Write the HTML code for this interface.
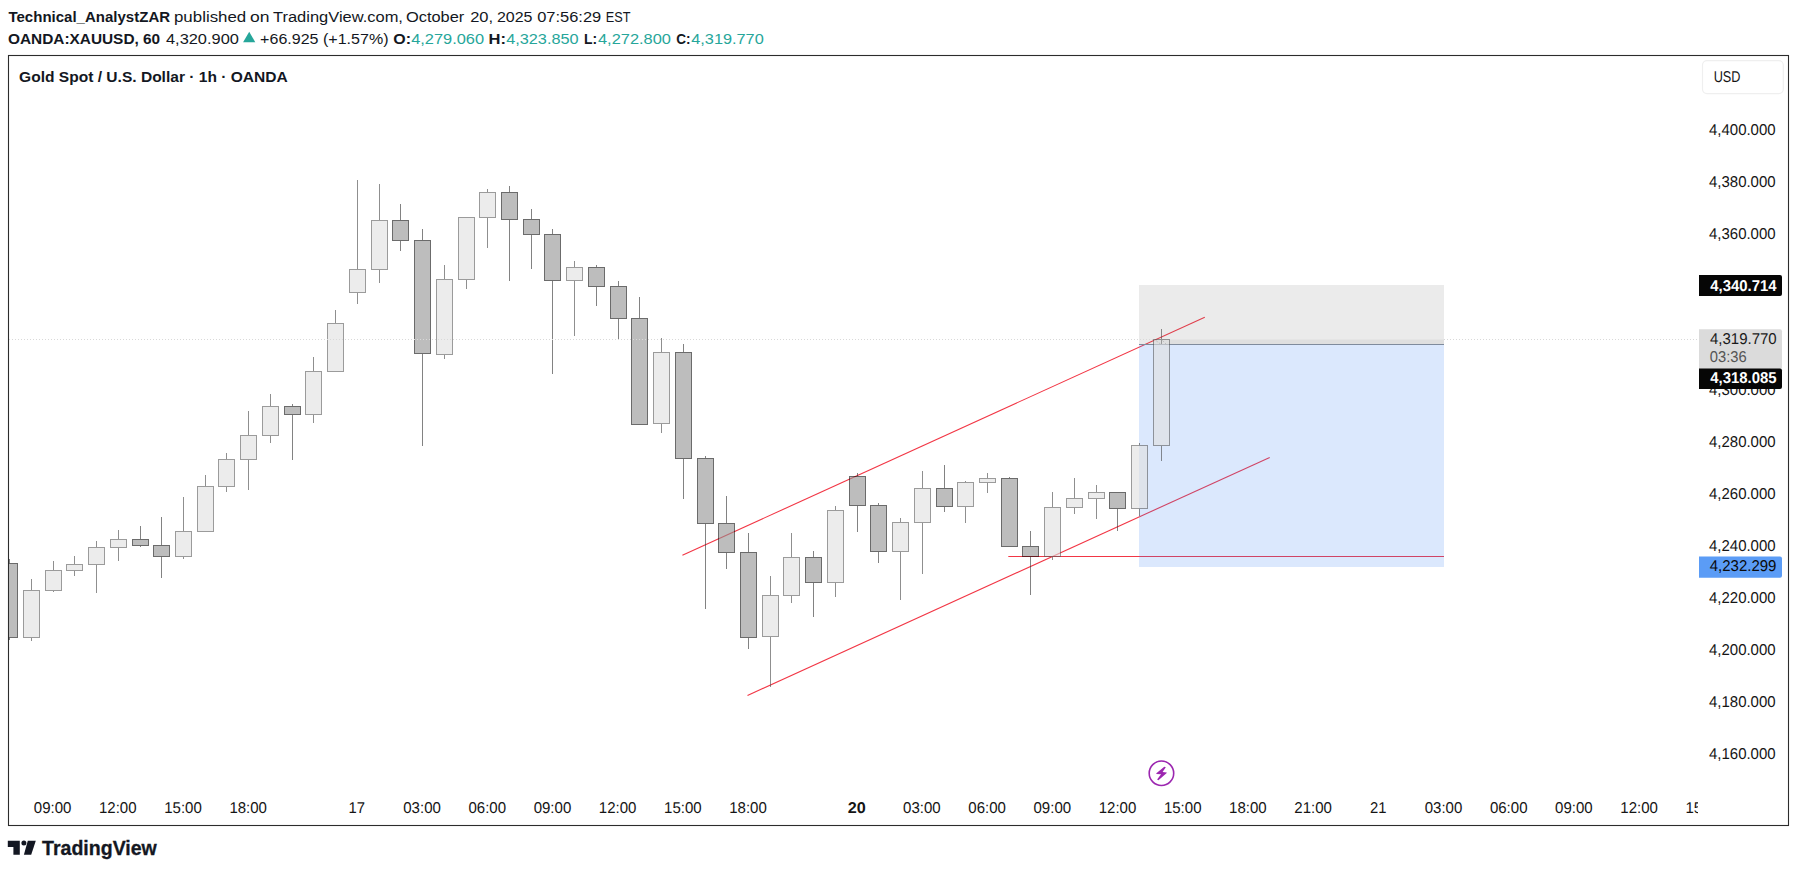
<!DOCTYPE html>
<html lang="en"><head><meta charset="utf-8"><title>XAUUSD chart</title>
<style>
html,body{margin:0;padding:0;background:#fff;}
body{width:1797px;height:872px;overflow:hidden;font-family:"Liberation Sans",Arial,sans-serif;}
svg{display:block}
text{font-family:"Liberation Sans",Arial,sans-serif;}
.ax{font-size:15.6px;fill:#151515;text-rendering:geometricPrecision}
.hd{font-size:14.7px;fill:#131722}
.b{font-weight:bold}
.teal{fill:#26a69a}
</style></head><body>
<svg width="1797" height="872" viewBox="0 0 1797 872">
<rect width="1797" height="872" fill="#fff"/>
<defs><clipPath id="plot"><rect x="9" y="56" width="1688" height="769"/></clipPath>
<clipPath id="taxis"><rect x="8.5" y="790" width="1689.5" height="35"/></clipPath></defs>

<text class="hd b" x="8.44" y="21.9" textLength="161.66" lengthAdjust="spacingAndGlyphs">Technical_AnalystZAR</text>
<text class="hd" x="173.99" y="21.9" textLength="72.26" lengthAdjust="spacingAndGlyphs">published</text>
<text class="hd" x="249.91" y="21.9" textLength="19.49" lengthAdjust="spacingAndGlyphs">on</text>
<text class="hd" x="273.03" y="21.9" textLength="129.91" lengthAdjust="spacingAndGlyphs">TradingView.com,</text>
<text class="hd" x="405.95" y="21.9" textLength="58.36" lengthAdjust="spacingAndGlyphs">October</text>
<text class="hd" x="470.18" y="21.9" textLength="22.93" lengthAdjust="spacingAndGlyphs">20,</text>
<text class="hd" x="496.91" y="21.9" textLength="35.62" lengthAdjust="spacingAndGlyphs">2025</text>
<text class="hd" x="537.16" y="21.9" textLength="64.09" lengthAdjust="spacingAndGlyphs">07:56:29</text>
<text class="hd" x="605.68" y="21.9" textLength="24.74" lengthAdjust="spacingAndGlyphs">EST</text>
<text class="hd b" x="7.94" y="43.9" textLength="152.25" lengthAdjust="spacingAndGlyphs">OANDA:XAUUSD, 60</text>
<text class="hd" x="166.01" y="43.9" textLength="72.86" lengthAdjust="spacingAndGlyphs">4,320.900</text>
<text class="hd" x="260.12" y="43.9" textLength="128.38" lengthAdjust="spacingAndGlyphs">+66.925 (+1.57%)</text>
<text class="hd b" x="393.28" y="43.9" textLength="17.72" lengthAdjust="spacingAndGlyphs">O:</text>
<text class="hd teal" x="411.15" y="43.9" textLength="72.94" lengthAdjust="spacingAndGlyphs">4,279.060</text>
<text class="hd b" x="488.58" y="43.9" textLength="17.45" lengthAdjust="spacingAndGlyphs">H:</text>
<text class="hd teal" x="506.16" y="43.9" textLength="72.46" lengthAdjust="spacingAndGlyphs">4,323.850</text>
<text class="hd b" x="584.0" y="43.9" textLength="13.11" lengthAdjust="spacingAndGlyphs">L:</text>
<text class="hd teal" x="597.99" y="43.9" textLength="72.93" lengthAdjust="spacingAndGlyphs">4,272.800</text>
<text class="hd b" x="676.16" y="43.9" textLength="14.31" lengthAdjust="spacingAndGlyphs">C:</text>
<text class="hd teal" x="691.26" y="43.9" textLength="72.49" lengthAdjust="spacingAndGlyphs">4,319.770</text>
<polygon points="243.1,42.3 255.3,42.3 249.2,31.8" fill="#26a69a"/>
<rect x="8.5" y="55.5" width="1780" height="770" fill="#fff" stroke="#2c2c2c" stroke-width="1.1"/>
<text class="hd b" x="19.11" y="81.5" textLength="268.65" lengthAdjust="spacingAndGlyphs">Gold Spot / U.S. Dollar · 1h · OANDA</text>
<g clip-path="url(#plot)">
<line x1="682.4" y1="555.3" x2="1204.8" y2="317.2" stroke="#f23645" stroke-width="1.1"/>
<line x1="747.5" y1="695.5" x2="1269.7" y2="457.4" stroke="#f23645" stroke-width="1.1"/>
<line x1="1008.3" y1="556.5" x2="1444" y2="556.5" stroke="#f23645" stroke-width="1.1"/>
<rect x="1139" y="285" width="305" height="59" fill="rgba(120,120,120,0.15)"/>
<rect x="1153" y="339.5" width="291" height="4.5" fill="rgba(120,120,120,0.1)"/>
<rect x="1139" y="344.5" width="305" height="222.5" fill="rgba(66,133,244,0.19)"/>
<rect x="1139" y="344" width="305" height="1" fill="#7f8b9c"/>
<rect x="9" y="559" width="1" height="4" fill="rgba(47,47,47,0.6)"/>
<rect x="9" y="638" width="1" height="2" fill="rgba(47,47,47,0.6)"/>
<rect x="2" y="564" width="15" height="73" fill="rgba(145,145,145,0.6)"/>
<rect x="1.5" y="563.5" width="16" height="74" fill="none" stroke="rgba(8,8,8,0.6)" stroke-width="1"/>
<rect x="31" y="579" width="1" height="11" fill="rgba(68,68,68,0.6)"/>
<rect x="31" y="638" width="1" height="3" fill="rgba(68,68,68,0.6)"/>
<rect x="24" y="591" width="15" height="46" fill="rgba(223,223,223,0.6)"/>
<rect x="23.5" y="590.5" width="16" height="47" fill="none" stroke="rgba(88,88,88,0.6)" stroke-width="1"/>
<rect x="53" y="561" width="1" height="9" fill="rgba(68,68,68,0.6)"/>
<rect x="53" y="591" width="1" height="1" fill="rgba(68,68,68,0.6)"/>
<rect x="46" y="571" width="15" height="19" fill="rgba(223,223,223,0.6)"/>
<rect x="45.5" y="570.5" width="16" height="20" fill="none" stroke="rgba(88,88,88,0.6)" stroke-width="1"/>
<rect x="74" y="556" width="1" height="8" fill="rgba(68,68,68,0.6)"/>
<rect x="74" y="571" width="1" height="5" fill="rgba(68,68,68,0.6)"/>
<rect x="67" y="565" width="15" height="5" fill="rgba(223,223,223,0.6)"/>
<rect x="66.5" y="564.5" width="16" height="6" fill="none" stroke="rgba(88,88,88,0.6)" stroke-width="1"/>
<rect x="96" y="541" width="1" height="6" fill="rgba(68,68,68,0.6)"/>
<rect x="96" y="565" width="1" height="28" fill="rgba(68,68,68,0.6)"/>
<rect x="89" y="548" width="15" height="16" fill="rgba(223,223,223,0.6)"/>
<rect x="88.5" y="547.5" width="16" height="17" fill="none" stroke="rgba(88,88,88,0.6)" stroke-width="1"/>
<rect x="118" y="530" width="1" height="9" fill="rgba(68,68,68,0.6)"/>
<rect x="118" y="548" width="1" height="13" fill="rgba(68,68,68,0.6)"/>
<rect x="111" y="540" width="15" height="7" fill="rgba(223,223,223,0.6)"/>
<rect x="110.5" y="539.5" width="16" height="8" fill="none" stroke="rgba(88,88,88,0.6)" stroke-width="1"/>
<rect x="140" y="526" width="1" height="13" fill="rgba(47,47,47,0.6)"/>
<rect x="140" y="546" width="1" height="1" fill="rgba(47,47,47,0.6)"/>
<rect x="133" y="540" width="15" height="5" fill="rgba(145,145,145,0.6)"/>
<rect x="132.5" y="539.5" width="16" height="6" fill="none" stroke="rgba(8,8,8,0.6)" stroke-width="1"/>
<rect x="161" y="517" width="1" height="28" fill="rgba(47,47,47,0.6)"/>
<rect x="161" y="557" width="1" height="21" fill="rgba(47,47,47,0.6)"/>
<rect x="154" y="546" width="15" height="10" fill="rgba(145,145,145,0.6)"/>
<rect x="153.5" y="545.5" width="16" height="11" fill="none" stroke="rgba(8,8,8,0.6)" stroke-width="1"/>
<rect x="183" y="497" width="1" height="34" fill="rgba(68,68,68,0.6)"/>
<rect x="183" y="557" width="1" height="2" fill="rgba(68,68,68,0.6)"/>
<rect x="176" y="532" width="15" height="24" fill="rgba(223,223,223,0.6)"/>
<rect x="175.5" y="531.5" width="16" height="25" fill="none" stroke="rgba(88,88,88,0.6)" stroke-width="1"/>
<rect x="205" y="475" width="1" height="11" fill="rgba(68,68,68,0.6)"/>
<rect x="198" y="487" width="15" height="44" fill="rgba(223,223,223,0.6)"/>
<rect x="197.5" y="486.5" width="16" height="45" fill="none" stroke="rgba(88,88,88,0.6)" stroke-width="1"/>
<rect x="226" y="453" width="1" height="6" fill="rgba(68,68,68,0.6)"/>
<rect x="226" y="487" width="1" height="5" fill="rgba(68,68,68,0.6)"/>
<rect x="219" y="460" width="15" height="26" fill="rgba(223,223,223,0.6)"/>
<rect x="218.5" y="459.5" width="16" height="27" fill="none" stroke="rgba(88,88,88,0.6)" stroke-width="1"/>
<rect x="248" y="411" width="1" height="24" fill="rgba(68,68,68,0.6)"/>
<rect x="248" y="460" width="1" height="30" fill="rgba(68,68,68,0.6)"/>
<rect x="241" y="436" width="15" height="23" fill="rgba(223,223,223,0.6)"/>
<rect x="240.5" y="435.5" width="16" height="24" fill="none" stroke="rgba(88,88,88,0.6)" stroke-width="1"/>
<rect x="270" y="394" width="1" height="12" fill="rgba(68,68,68,0.6)"/>
<rect x="270" y="436" width="1" height="7" fill="rgba(68,68,68,0.6)"/>
<rect x="263" y="407" width="15" height="28" fill="rgba(223,223,223,0.6)"/>
<rect x="262.5" y="406.5" width="16" height="29" fill="none" stroke="rgba(88,88,88,0.6)" stroke-width="1"/>
<rect x="292" y="404" width="1" height="2" fill="rgba(47,47,47,0.6)"/>
<rect x="292" y="415" width="1" height="45" fill="rgba(47,47,47,0.6)"/>
<rect x="285" y="407" width="15" height="7" fill="rgba(145,145,145,0.6)"/>
<rect x="284.5" y="406.5" width="16" height="8" fill="none" stroke="rgba(8,8,8,0.6)" stroke-width="1"/>
<rect x="313" y="357" width="1" height="14" fill="rgba(68,68,68,0.6)"/>
<rect x="313" y="415" width="1" height="8" fill="rgba(68,68,68,0.6)"/>
<rect x="306" y="372" width="15" height="42" fill="rgba(223,223,223,0.6)"/>
<rect x="305.5" y="371.5" width="16" height="43" fill="none" stroke="rgba(88,88,88,0.6)" stroke-width="1"/>
<rect x="335" y="310" width="1" height="13" fill="rgba(68,68,68,0.6)"/>
<rect x="328" y="324" width="15" height="47" fill="rgba(223,223,223,0.6)"/>
<rect x="327.5" y="323.5" width="16" height="48" fill="none" stroke="rgba(88,88,88,0.6)" stroke-width="1"/>
<rect x="357" y="180" width="1" height="89" fill="rgba(68,68,68,0.6)"/>
<rect x="357" y="293" width="1" height="11" fill="rgba(68,68,68,0.6)"/>
<rect x="350" y="270" width="15" height="22" fill="rgba(223,223,223,0.6)"/>
<rect x="349.5" y="269.5" width="16" height="23" fill="none" stroke="rgba(88,88,88,0.6)" stroke-width="1"/>
<rect x="379" y="184" width="1" height="36" fill="rgba(68,68,68,0.6)"/>
<rect x="379" y="270" width="1" height="13" fill="rgba(68,68,68,0.6)"/>
<rect x="372" y="221" width="15" height="48" fill="rgba(223,223,223,0.6)"/>
<rect x="371.5" y="220.5" width="16" height="49" fill="none" stroke="rgba(88,88,88,0.6)" stroke-width="1"/>
<rect x="400" y="204" width="1" height="16" fill="rgba(47,47,47,0.6)"/>
<rect x="400" y="241" width="1" height="10" fill="rgba(47,47,47,0.6)"/>
<rect x="393" y="221" width="15" height="19" fill="rgba(145,145,145,0.6)"/>
<rect x="392.5" y="220.5" width="16" height="20" fill="none" stroke="rgba(8,8,8,0.6)" stroke-width="1"/>
<rect x="422" y="229" width="1" height="11" fill="rgba(47,47,47,0.6)"/>
<rect x="422" y="354" width="1" height="92" fill="rgba(47,47,47,0.6)"/>
<rect x="415" y="241" width="15" height="112" fill="rgba(145,145,145,0.6)"/>
<rect x="414.5" y="240.5" width="16" height="113" fill="none" stroke="rgba(8,8,8,0.6)" stroke-width="1"/>
<rect x="444" y="265" width="1" height="14" fill="rgba(68,68,68,0.6)"/>
<rect x="444" y="355" width="1" height="4" fill="rgba(68,68,68,0.6)"/>
<rect x="437" y="280" width="15" height="74" fill="rgba(223,223,223,0.6)"/>
<rect x="436.5" y="279.5" width="16" height="75" fill="none" stroke="rgba(88,88,88,0.6)" stroke-width="1"/>
<rect x="466" y="280" width="1" height="9" fill="rgba(68,68,68,0.6)"/>
<rect x="459" y="218" width="15" height="61" fill="rgba(223,223,223,0.6)"/>
<rect x="458.5" y="217.5" width="16" height="62" fill="none" stroke="rgba(88,88,88,0.6)" stroke-width="1"/>
<rect x="487" y="189" width="1" height="3" fill="rgba(68,68,68,0.6)"/>
<rect x="487" y="218" width="1" height="30" fill="rgba(68,68,68,0.6)"/>
<rect x="480" y="193" width="15" height="24" fill="rgba(223,223,223,0.6)"/>
<rect x="479.5" y="192.5" width="16" height="25" fill="none" stroke="rgba(88,88,88,0.6)" stroke-width="1"/>
<rect x="509" y="186" width="1" height="6" fill="rgba(47,47,47,0.6)"/>
<rect x="509" y="220" width="1" height="61" fill="rgba(47,47,47,0.6)"/>
<rect x="502" y="193" width="15" height="26" fill="rgba(145,145,145,0.6)"/>
<rect x="501.5" y="192.5" width="16" height="27" fill="none" stroke="rgba(8,8,8,0.6)" stroke-width="1"/>
<rect x="531" y="209" width="1" height="10" fill="rgba(47,47,47,0.6)"/>
<rect x="531" y="235" width="1" height="34" fill="rgba(47,47,47,0.6)"/>
<rect x="524" y="220" width="15" height="14" fill="rgba(145,145,145,0.6)"/>
<rect x="523.5" y="219.5" width="16" height="15" fill="none" stroke="rgba(8,8,8,0.6)" stroke-width="1"/>
<rect x="552" y="229" width="1" height="5" fill="rgba(47,47,47,0.6)"/>
<rect x="552" y="281" width="1" height="93" fill="rgba(47,47,47,0.6)"/>
<rect x="545" y="235" width="15" height="45" fill="rgba(145,145,145,0.6)"/>
<rect x="544.5" y="234.5" width="16" height="46" fill="none" stroke="rgba(8,8,8,0.6)" stroke-width="1"/>
<rect x="574" y="261" width="1" height="6" fill="rgba(68,68,68,0.6)"/>
<rect x="574" y="281" width="1" height="55" fill="rgba(68,68,68,0.6)"/>
<rect x="567" y="268" width="15" height="12" fill="rgba(223,223,223,0.6)"/>
<rect x="566.5" y="267.5" width="16" height="13" fill="none" stroke="rgba(88,88,88,0.6)" stroke-width="1"/>
<rect x="596" y="265" width="1" height="2" fill="rgba(47,47,47,0.6)"/>
<rect x="596" y="287" width="1" height="19" fill="rgba(47,47,47,0.6)"/>
<rect x="589" y="268" width="15" height="18" fill="rgba(145,145,145,0.6)"/>
<rect x="588.5" y="267.5" width="16" height="19" fill="none" stroke="rgba(8,8,8,0.6)" stroke-width="1"/>
<rect x="618" y="281" width="1" height="5" fill="rgba(47,47,47,0.6)"/>
<rect x="618" y="319" width="1" height="20" fill="rgba(47,47,47,0.6)"/>
<rect x="611" y="287" width="15" height="31" fill="rgba(145,145,145,0.6)"/>
<rect x="610.5" y="286.5" width="16" height="32" fill="none" stroke="rgba(8,8,8,0.6)" stroke-width="1"/>
<rect x="639" y="297" width="1" height="21" fill="rgba(47,47,47,0.6)"/>
<rect x="632" y="319" width="15" height="105" fill="rgba(145,145,145,0.6)"/>
<rect x="631.5" y="318.5" width="16" height="106" fill="none" stroke="rgba(8,8,8,0.6)" stroke-width="1"/>
<rect x="661" y="338" width="1" height="14" fill="rgba(68,68,68,0.6)"/>
<rect x="661" y="424" width="1" height="9" fill="rgba(68,68,68,0.6)"/>
<rect x="654" y="353" width="15" height="70" fill="rgba(223,223,223,0.6)"/>
<rect x="653.5" y="352.5" width="16" height="71" fill="none" stroke="rgba(88,88,88,0.6)" stroke-width="1"/>
<rect x="683" y="344" width="1" height="8" fill="rgba(47,47,47,0.6)"/>
<rect x="683" y="459" width="1" height="40" fill="rgba(47,47,47,0.6)"/>
<rect x="676" y="353" width="15" height="105" fill="rgba(145,145,145,0.6)"/>
<rect x="675.5" y="352.5" width="16" height="106" fill="none" stroke="rgba(8,8,8,0.6)" stroke-width="1"/>
<rect x="705" y="456" width="1" height="2" fill="rgba(47,47,47,0.6)"/>
<rect x="705" y="524" width="1" height="85" fill="rgba(47,47,47,0.6)"/>
<rect x="698" y="459" width="15" height="64" fill="rgba(145,145,145,0.6)"/>
<rect x="697.5" y="458.5" width="16" height="65" fill="none" stroke="rgba(8,8,8,0.6)" stroke-width="1"/>
<rect x="726" y="496" width="1" height="27" fill="rgba(47,47,47,0.6)"/>
<rect x="726" y="553" width="1" height="16" fill="rgba(47,47,47,0.6)"/>
<rect x="719" y="524" width="15" height="28" fill="rgba(145,145,145,0.6)"/>
<rect x="718.5" y="523.5" width="16" height="29" fill="none" stroke="rgba(8,8,8,0.6)" stroke-width="1"/>
<rect x="748" y="533" width="1" height="19" fill="rgba(47,47,47,0.6)"/>
<rect x="748" y="638" width="1" height="11" fill="rgba(47,47,47,0.6)"/>
<rect x="741" y="553" width="15" height="84" fill="rgba(145,145,145,0.6)"/>
<rect x="740.5" y="552.5" width="16" height="85" fill="none" stroke="rgba(8,8,8,0.6)" stroke-width="1"/>
<rect x="770" y="576" width="1" height="19" fill="rgba(68,68,68,0.6)"/>
<rect x="770" y="637" width="1" height="50" fill="rgba(68,68,68,0.6)"/>
<rect x="763" y="596" width="15" height="40" fill="rgba(223,223,223,0.6)"/>
<rect x="762.5" y="595.5" width="16" height="41" fill="none" stroke="rgba(88,88,88,0.6)" stroke-width="1"/>
<rect x="791" y="533" width="1" height="24" fill="rgba(68,68,68,0.6)"/>
<rect x="791" y="596" width="1" height="7" fill="rgba(68,68,68,0.6)"/>
<rect x="784" y="558" width="15" height="37" fill="rgba(223,223,223,0.6)"/>
<rect x="783.5" y="557.5" width="16" height="38" fill="none" stroke="rgba(88,88,88,0.6)" stroke-width="1"/>
<rect x="813" y="551" width="1" height="6" fill="rgba(47,47,47,0.6)"/>
<rect x="813" y="583" width="1" height="34" fill="rgba(47,47,47,0.6)"/>
<rect x="806" y="558" width="15" height="24" fill="rgba(145,145,145,0.6)"/>
<rect x="805.5" y="557.5" width="16" height="25" fill="none" stroke="rgba(8,8,8,0.6)" stroke-width="1"/>
<rect x="835" y="506" width="1" height="4" fill="rgba(68,68,68,0.6)"/>
<rect x="835" y="583" width="1" height="14" fill="rgba(68,68,68,0.6)"/>
<rect x="828" y="511" width="15" height="71" fill="rgba(223,223,223,0.6)"/>
<rect x="827.5" y="510.5" width="16" height="72" fill="none" stroke="rgba(88,88,88,0.6)" stroke-width="1"/>
<rect x="857" y="473" width="1" height="3" fill="rgba(47,47,47,0.6)"/>
<rect x="857" y="506" width="1" height="26" fill="rgba(47,47,47,0.6)"/>
<rect x="850" y="477" width="15" height="28" fill="rgba(145,145,145,0.6)"/>
<rect x="849.5" y="476.5" width="16" height="29" fill="none" stroke="rgba(8,8,8,0.6)" stroke-width="1"/>
<rect x="878" y="503" width="1" height="2" fill="rgba(47,47,47,0.6)"/>
<rect x="878" y="552" width="1" height="11" fill="rgba(47,47,47,0.6)"/>
<rect x="871" y="506" width="15" height="45" fill="rgba(145,145,145,0.6)"/>
<rect x="870.5" y="505.5" width="16" height="46" fill="none" stroke="rgba(8,8,8,0.6)" stroke-width="1"/>
<rect x="900" y="518" width="1" height="4" fill="rgba(68,68,68,0.6)"/>
<rect x="900" y="552" width="1" height="48" fill="rgba(68,68,68,0.6)"/>
<rect x="893" y="523" width="15" height="28" fill="rgba(223,223,223,0.6)"/>
<rect x="892.5" y="522.5" width="16" height="29" fill="none" stroke="rgba(88,88,88,0.6)" stroke-width="1"/>
<rect x="922" y="471" width="1" height="17" fill="rgba(68,68,68,0.6)"/>
<rect x="922" y="523" width="1" height="51" fill="rgba(68,68,68,0.6)"/>
<rect x="915" y="489" width="15" height="33" fill="rgba(223,223,223,0.6)"/>
<rect x="914.5" y="488.5" width="16" height="34" fill="none" stroke="rgba(88,88,88,0.6)" stroke-width="1"/>
<rect x="944" y="465" width="1" height="23" fill="rgba(47,47,47,0.6)"/>
<rect x="944" y="507" width="1" height="5" fill="rgba(47,47,47,0.6)"/>
<rect x="937" y="489" width="15" height="17" fill="rgba(145,145,145,0.6)"/>
<rect x="936.5" y="488.5" width="16" height="18" fill="none" stroke="rgba(8,8,8,0.6)" stroke-width="1"/>
<rect x="965" y="481" width="1" height="1" fill="rgba(68,68,68,0.6)"/>
<rect x="965" y="507" width="1" height="16" fill="rgba(68,68,68,0.6)"/>
<rect x="958" y="483" width="15" height="23" fill="rgba(223,223,223,0.6)"/>
<rect x="957.5" y="482.5" width="16" height="24" fill="none" stroke="rgba(88,88,88,0.6)" stroke-width="1"/>
<rect x="987" y="473" width="1" height="5" fill="rgba(68,68,68,0.6)"/>
<rect x="987" y="483" width="1" height="10" fill="rgba(68,68,68,0.6)"/>
<rect x="980" y="479" width="15" height="3" fill="rgba(223,223,223,0.6)"/>
<rect x="979.5" y="478.5" width="16" height="4" fill="none" stroke="rgba(88,88,88,0.6)" stroke-width="1"/>
<rect x="1009" y="477" width="1" height="1" fill="rgba(47,47,47,0.6)"/>
<rect x="1002" y="479" width="15" height="67" fill="rgba(145,145,145,0.6)"/>
<rect x="1001.5" y="478.5" width="16" height="68" fill="none" stroke="rgba(8,8,8,0.6)" stroke-width="1"/>
<rect x="1030" y="531" width="1" height="15" fill="rgba(47,47,47,0.6)"/>
<rect x="1030" y="557" width="1" height="38" fill="rgba(47,47,47,0.6)"/>
<rect x="1023" y="547" width="15" height="9" fill="rgba(145,145,145,0.6)"/>
<rect x="1022.5" y="546.5" width="16" height="10" fill="none" stroke="rgba(8,8,8,0.6)" stroke-width="1"/>
<rect x="1052" y="492" width="1" height="15" fill="rgba(68,68,68,0.6)"/>
<rect x="1052" y="557" width="1" height="3" fill="rgba(68,68,68,0.6)"/>
<rect x="1045" y="508" width="15" height="48" fill="rgba(223,223,223,0.6)"/>
<rect x="1044.5" y="507.5" width="16" height="49" fill="none" stroke="rgba(88,88,88,0.6)" stroke-width="1"/>
<rect x="1074" y="478" width="1" height="20" fill="rgba(68,68,68,0.6)"/>
<rect x="1074" y="508" width="1" height="6" fill="rgba(68,68,68,0.6)"/>
<rect x="1067" y="499" width="15" height="8" fill="rgba(223,223,223,0.6)"/>
<rect x="1066.5" y="498.5" width="16" height="9" fill="none" stroke="rgba(88,88,88,0.6)" stroke-width="1"/>
<rect x="1096" y="485" width="1" height="7" fill="rgba(68,68,68,0.6)"/>
<rect x="1096" y="499" width="1" height="20" fill="rgba(68,68,68,0.6)"/>
<rect x="1089" y="493" width="15" height="5" fill="rgba(223,223,223,0.6)"/>
<rect x="1088.5" y="492.5" width="16" height="6" fill="none" stroke="rgba(88,88,88,0.6)" stroke-width="1"/>
<rect x="1117" y="509" width="1" height="22" fill="rgba(47,47,47,0.6)"/>
<rect x="1110" y="493" width="15" height="15" fill="rgba(145,145,145,0.6)"/>
<rect x="1109.5" y="492.5" width="16" height="16" fill="none" stroke="rgba(8,8,8,0.6)" stroke-width="1"/>
<rect x="1139" y="443" width="1" height="2" fill="rgba(68,68,68,0.6)"/>
<rect x="1139" y="509" width="1" height="7" fill="rgba(68,68,68,0.6)"/>
<rect x="1132" y="446" width="15" height="62" fill="rgba(223,223,223,0.6)"/>
<rect x="1131.5" y="445.5" width="16" height="63" fill="none" stroke="rgba(88,88,88,0.6)" stroke-width="1"/>
<rect x="1161" y="329" width="1" height="10" fill="rgba(68,68,68,0.6)"/>
<rect x="1161" y="446" width="1" height="15" fill="rgba(68,68,68,0.6)"/>
<rect x="1154" y="340" width="15" height="105" fill="rgba(223,223,223,0.6)"/>
<rect x="1153.5" y="339.5" width="16" height="106" fill="none" stroke="rgba(88,88,88,0.6)" stroke-width="1"/>
<line x1="9" y1="339.5" x2="1153" y2="339.5" stroke="#d9d9d9" stroke-width="1" stroke-dasharray="1 2"/>
<line x1="1444" y1="339.5" x2="1697" y2="339.5" stroke="#d9d9d9" stroke-width="1" stroke-dasharray="1 2"/>
<rect x="1161" y="340" width="1" height="4" fill="#9b9b9b"/>
<path d="M1160.5 344 L1155 339.8 M1162.5 340.5 L1167.5 345.5" stroke="#b5b5b5" stroke-width="0.8" stroke-dasharray="2 1.5" fill="none"/>
<g transform="translate(1161.45,773.25)"><circle r="12.25" fill="none" stroke="#9c27b0" stroke-width="1.6"/><polygon points="2.84,-6.62 4.35,-6.06 1.14,-1.14 5.3,-0.83 5.3,-0.19 -3.03,7.0 -4.35,6.25 -0.38,0.95 -5.1,0.83 -5.1,0.08" fill="#9c27b0"/></g>
</g>
<g clip-path="url(#taxis)">
<text class="ax" x="33.79" y="812.9" textLength="37.6" lengthAdjust="spacingAndGlyphs">09:00</text>
<text class="ax" x="98.99" y="812.9" textLength="37.6" lengthAdjust="spacingAndGlyphs">12:00</text>
<text class="ax" x="164.18" y="812.9" textLength="37.6" lengthAdjust="spacingAndGlyphs">15:00</text>
<text class="ax" x="229.38" y="812.9" textLength="37.6" lengthAdjust="spacingAndGlyphs">18:00</text>
<text class="ax" x="348.6" y="812.9" textLength="16.5" lengthAdjust="spacingAndGlyphs">17</text>
<text class="ax" x="403.25" y="812.9" textLength="37.6" lengthAdjust="spacingAndGlyphs">03:00</text>
<text class="ax" x="468.45" y="812.9" textLength="37.6" lengthAdjust="spacingAndGlyphs">06:00</text>
<text class="ax" x="533.65" y="812.9" textLength="37.6" lengthAdjust="spacingAndGlyphs">09:00</text>
<text class="ax" x="598.84" y="812.9" textLength="37.6" lengthAdjust="spacingAndGlyphs">12:00</text>
<text class="ax" x="664.04" y="812.9" textLength="37.6" lengthAdjust="spacingAndGlyphs">15:00</text>
<text class="ax" x="729.24" y="812.9" textLength="37.6" lengthAdjust="spacingAndGlyphs">18:00</text>
<text class="ax b" x="847.71" y="812.9" textLength="18.0" lengthAdjust="spacingAndGlyphs">20</text>
<text class="ax" x="903.11" y="812.9" textLength="37.6" lengthAdjust="spacingAndGlyphs">03:00</text>
<text class="ax" x="968.31" y="812.9" textLength="37.6" lengthAdjust="spacingAndGlyphs">06:00</text>
<text class="ax" x="1033.5" y="812.9" textLength="37.6" lengthAdjust="spacingAndGlyphs">09:00</text>
<text class="ax" x="1098.7" y="812.9" textLength="37.6" lengthAdjust="spacingAndGlyphs">12:00</text>
<text class="ax" x="1163.9" y="812.9" textLength="37.6" lengthAdjust="spacingAndGlyphs">15:00</text>
<text class="ax" x="1229.1" y="812.9" textLength="37.6" lengthAdjust="spacingAndGlyphs">18:00</text>
<text class="ax" x="1294.3" y="812.9" textLength="37.6" lengthAdjust="spacingAndGlyphs">21:00</text>
<text class="ax" x="1370.05" y="812.9" textLength="16.5" lengthAdjust="spacingAndGlyphs">21</text>
<text class="ax" x="1424.7" y="812.9" textLength="37.6" lengthAdjust="spacingAndGlyphs">03:00</text>
<text class="ax" x="1489.9" y="812.9" textLength="37.6" lengthAdjust="spacingAndGlyphs">06:00</text>
<text class="ax" x="1555.1" y="812.9" textLength="37.6" lengthAdjust="spacingAndGlyphs">09:00</text>
<text class="ax" x="1620.3" y="812.9" textLength="37.6" lengthAdjust="spacingAndGlyphs">12:00</text>
<text class="ax" x="1685.49" y="812.9" textLength="37.6" lengthAdjust="spacingAndGlyphs">15:00</text>
</g>
<text class="ax" x="1708.97" y="135.0" textLength="66.65" lengthAdjust="spacingAndGlyphs">4,400.000</text>
<text class="ax" x="1708.97" y="187.0" textLength="66.65" lengthAdjust="spacingAndGlyphs">4,380.000</text>
<text class="ax" x="1708.97" y="239.0" textLength="66.65" lengthAdjust="spacingAndGlyphs">4,360.000</text>
<text class="ax" x="1708.97" y="291.0" textLength="66.65" lengthAdjust="spacingAndGlyphs">4,340.000</text>
<text class="ax" x="1708.97" y="343.0" textLength="66.65" lengthAdjust="spacingAndGlyphs">4,320.000</text>
<text class="ax" x="1708.97" y="395.0" textLength="66.65" lengthAdjust="spacingAndGlyphs">4,300.000</text>
<text class="ax" x="1708.97" y="447.0" textLength="66.65" lengthAdjust="spacingAndGlyphs">4,280.000</text>
<text class="ax" x="1708.97" y="499.0" textLength="66.65" lengthAdjust="spacingAndGlyphs">4,260.000</text>
<text class="ax" x="1708.97" y="551.0" textLength="66.65" lengthAdjust="spacingAndGlyphs">4,240.000</text>
<text class="ax" x="1708.97" y="603.0" textLength="66.65" lengthAdjust="spacingAndGlyphs">4,220.000</text>
<text class="ax" x="1708.97" y="655.0" textLength="66.65" lengthAdjust="spacingAndGlyphs">4,200.000</text>
<text class="ax" x="1708.97" y="707.0" textLength="66.65" lengthAdjust="spacingAndGlyphs">4,180.000</text>
<text class="ax" x="1708.97" y="759.0" textLength="66.65" lengthAdjust="spacingAndGlyphs">4,160.000</text>
<rect x="1702.5" y="60.6" width="80.8" height="33" rx="4.5" fill="#fff" stroke="#efefef" stroke-width="1.2"/>
<text class="ax" x="1713.67" y="81.8" textLength="26.83" lengthAdjust="spacingAndGlyphs">USD</text>
<path d="M1699 329.2 H1780 Q1782 329.2 1782 331.2 V367.5 Q1782 369.5 1780 369.5 H1699 Z" fill="#dbdbdb"/>
<text class="ax" x="1709.98" y="344.3" textLength="66.68" lengthAdjust="spacingAndGlyphs" style="fill:#1a1a1a">4,319.770</text>
<text class="ax" x="1709.83" y="362.1" textLength="36.87" lengthAdjust="spacingAndGlyphs" style="fill:#555">03:36</text>
<path d="M1699 275.1 H1780 Q1782 275.1 1782 277.1 V293.9 Q1782 295.9 1780 295.9 H1699 Z" fill="#060606"/>
<text class="ax b" x="1710.25" y="290.6" textLength="66.21" lengthAdjust="spacingAndGlyphs" style="fill:#fff">4,340.714</text>
<path d="M1699 368.4 H1780 Q1782 368.4 1782 370.4 V386.9 Q1782 388.9 1780 388.9 H1699 Z" fill="#060606"/>
<text class="ax b" x="1710.28" y="383" textLength="66.36" lengthAdjust="spacingAndGlyphs" style="fill:#fff">4,318.085</text>
<path d="M1699 556.5 H1780 Q1782 556.5 1782 558.5 V575.7 Q1782 577.7 1780 577.7 H1699 Z" fill="#5b9cf6"/>
<text class="ax" x="1709.73" y="571.4" textLength="66.72" lengthAdjust="spacingAndGlyphs" style="fill:#0a0a0a">4,232.299</text>
<g fill="#131722"><path d="M7.8 840.8 H19.8 V854.7 H13.4 V846.9 H7.8 Z"/><circle cx="23.9" cy="843.1" r="2.5"/><path d="M27.8 840.8 H35.8 L31.2 854.7 H23.9 Z"/></g>
<text x="42.1" y="854.7" class="b" style="font-size:19.4px;fill:#131722;stroke:#131722;stroke-width:0.3px" textLength="114.7" lengthAdjust="spacingAndGlyphs">TradingView</text>
</svg></body></html>
